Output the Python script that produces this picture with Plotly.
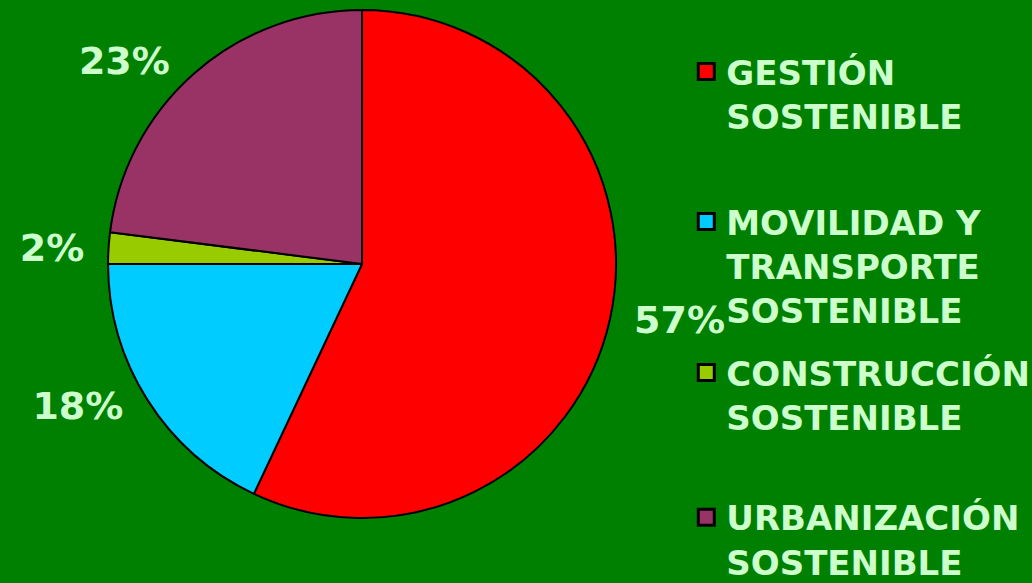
import plotly.graph_objects as go

categories = ["GESTIÓN<br>SOSTENIBLE",
              "MOVILIDAD Y<br>TRANSPORTE<br>SOSTENIBLE",
              "CONSTRUCCIÓN<br>SOSTENIBLE",
              "URBANIZACIÓN<br>SOSTENIBLE"]
values = [57, 18, 2, 23]
colors = ["#FF0000", "#00CCFF", "#99CC00", "#993366"]

BG = "#008000"
TXT = "#CCFFCC"
FONT = "DejaVu Sans"
NB = "\u00a0"

# right-hand label gets a little lead-in space, left-hand ones a little trailing space
label_formats = [NB + "%{percent:.0%}", "%{percent:.0%}" + NB,
                 "%{percent:.0%}" + NB, "%{percent:.0%}" + NB]

fig = go.Figure()
fig.add_trace(go.Pie(
    labels=categories,
    values=values,
    sort=False,
    direction="clockwise",
    rotation=0,
    marker=dict(colors=colors, line=dict(color="black", width=2)),
    textinfo="percent",
    texttemplate=label_formats,
    textposition="outside",
    outsidetextfont=dict(family=FONT, size=38, color=TXT, weight="bold"),
    domain=dict(x=[0.1047, 0.5969], y=[0.1115, 0.9828]),
    hoverinfo="none",
    automargin=False,
    showlegend=False,
))

# legend entries: one legend box per category, same colours as the slices
legend_ids = ["legend", "legend2", "legend3", "legend4"]
legend_tops = [0.9266, 0.6693, 0.4103, 0.1620]
for cat, col, lid in zip(categories, colors, legend_ids):
    fig.add_trace(go.Scatter(
        x=[None], y=[None], mode="markers", name=cat, legend=lid,
        marker=dict(symbol="square", size=16, color=col,
                    line=dict(color="black", width=3)),
        hoverinfo="skip",
    ))

legend_style = dict(
    x=0.665, xanchor="left", yanchor="top", valign="top",
    font=dict(family=FONT, size=34, color=TXT, weight="bold"),
    bgcolor="rgba(0,0,0,0)",
    itemclick=False, itemdoubleclick=False,
)

fig.update_layout(
    width=1032, height=583,
    margin=dict(l=0, r=0, t=0, b=0, autoexpand=False),
    paper_bgcolor=BG, plot_bgcolor=BG,
    showlegend=True,
    xaxis=dict(visible=False), yaxis=dict(visible=False),
    **{lid: dict(y=ly, **legend_style) for lid, ly in zip(legend_ids, legend_tops)},
)

fig.write_html("out.html", config={"displayModeBar": False},
               post_script="document.body.style.margin='0';document.body.style.overflow='hidden';")
